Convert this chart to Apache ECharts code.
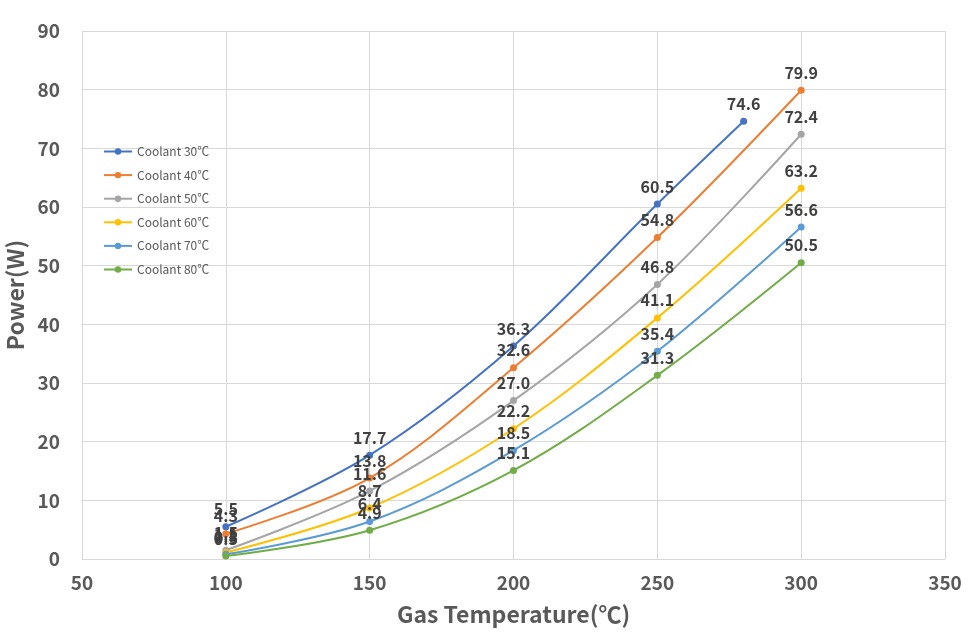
<!DOCTYPE html>
<html><head><meta charset="utf-8">
<script src="https://cdn.jsdelivr.net/npm/echarts@6/dist/echarts.min.js"></script>
<style>html,body{margin:0;padding:0;background:#fff}#c{width:976px;height:637px}</style>
</head><body><div id="c"></div>
<script>
const seriesNames = ['Coolant 30℃','Coolant 40℃','Coolant 50℃','Coolant 60℃','Coolant 70℃','Coolant 80℃'];
const temps30 = [100,150,200,250,280];
const temps = [100,150,200,250,300];
const power30 = [5.5,17.7,36.3,60.5,74.6];
const power40 = [4.3,13.8,32.6,54.8,79.9];
const power50 = [1.5,11.6,27.0,46.8,72.4];
const power60 = [1.1,8.7,22.2,41.1,63.2];
const power70 = [0.8,6.4,18.5,35.4,56.6];
const power80 = [0.5,4.9,15.1,31.3,50.5];
const xTicks = [50,100,150,200,250,300,350];
const yTicks = [0,10,20,30,40,50,60,70,80,90];
const colors = ['#4472C4','#ED7D31','#A5A5A5','#FFC000','#5B9BD5','#70AD47'];

const F = '"Noto Sans CJK KR","Noto Sans",sans-serif';
const allX = [temps30,temps,temps,temps,temps,temps];
const allY = [power30,power40,power50,power60,power70,power80];
const series = allY.map((ys,i)=>({
  name: seriesNames[i], type:'line', smooth:0.35,
  data: ys.map((v,j)=>[allX[i][j], v]),
  symbol:'circle', symbolSize:7,
  lineStyle:{width:2,color:colors[i]}, itemStyle:{color:colors[i]},
  label:{show:true, position:'top', distance:6, formatter:p=>p.value[1].toFixed(1),
    fontFamily:F, fontWeight:'bold', fontSize:16, color:'#404040'}
}));
const chart = echarts.init(document.getElementById('c'));
chart.setOption({
  color: colors,
  animation:false,
  grid:{left:82,right:31,top:31,bottom:78, outerBoundsMode:'none'},
  legend:{orient:'vertical', left:98, top:137, itemGap:4.6, itemWidth:28, itemHeight:8,
    textStyle:{fontFamily:F, fontSize:12, color:'#595959', lineHeight:14, padding:[5,0,0,0]}, data:seriesNames},
  xAxis:{type:'value', min:50, max:350, interval:50,
    name:'Gas Temperature(℃)', nameLocation:'middle', nameGap:44,
    nameTextStyle:{fontFamily:F, fontWeight:'bold', fontSize:23, color:'#595959'},
    axisLine:{show:true,lineStyle:{color:'#D9D9D9'}}, axisTick:{show:false},
    axisLabel:{fontFamily:F, fontWeight:'bold', fontSize:19, color:'#595959', margin:14},
    splitLine:{show:true,lineStyle:{color:'#D9D9D9'}}},
  yAxis:{type:'value', min:0, max:90, interval:10,
    name:'Power(W)', nameLocation:'middle', nameGap:49, nameRotate:90,
    nameTextStyle:{fontFamily:F, fontWeight:'bold', fontSize:23, color:'#595959'},
    axisLine:{show:true,lineStyle:{color:'#D9D9D9'}}, axisTick:{show:false},
    axisLabel:{fontFamily:F, fontWeight:'bold', fontSize:19, color:'#595959', margin:22},
    splitLine:{show:true,lineStyle:{color:'#D9D9D9'}}},
  series: series
});
</script></body></html>
